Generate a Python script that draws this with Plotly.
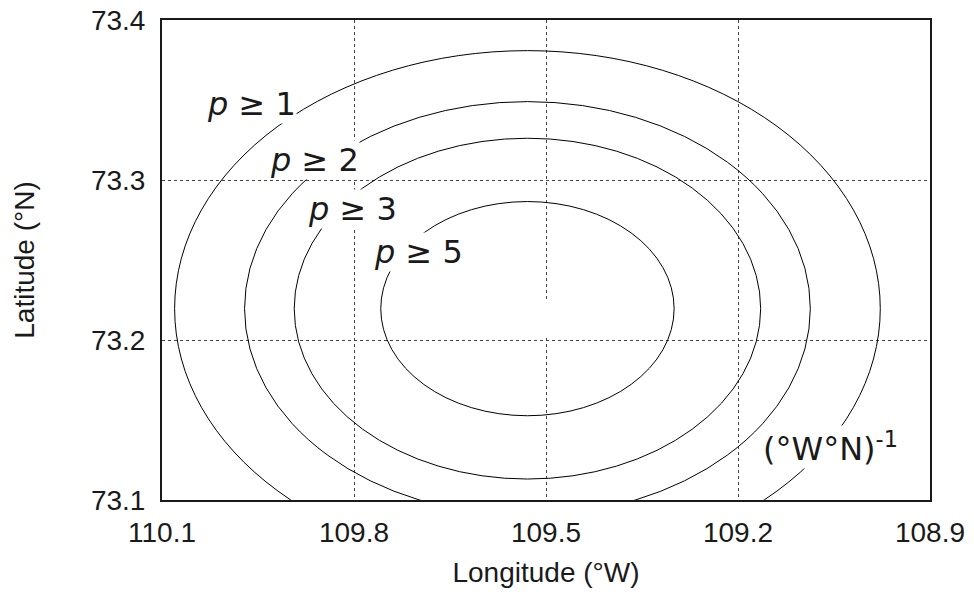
import plotly.graph_objects as go

# ---- data ----
levels = [1, 2, 3, 5]                      # contour levels p >= level
center_lon = 109.529                       # ellipse centre (°W)
center_lat = 73.2196                       # ellipse centre (°N)
semi_lon = [0.5513, 0.4420, 0.3644, 0.2292]  # half-widths in longitude
semi_lat = [0.16125, 0.1294, 0.1065, 0.06694]  # half-heights in latitude

x_ticks = [110.1, 109.8, 109.5, 109.2, 108.9]
y_ticks = [73.1, 73.2, 73.3, 73.4]
x_tick_text = ["110.1", "109.8", "109.5", "109.2", "108.9"]
y_tick_text = ["73.1", "73.2", "73.3", "73.4"]

label_texts = ["<i>p</i> ≥ 1", "<i>p</i> ≥ 2", "<i>p</i> ≥ 3", "<i>p</i> ≥ 5"]
unit_text = "(°W°N)<sup>-1</sup>"

# ---- layout constants (positions / styles) ----
label_pos = [(109.9609, 73.3478), (109.8625, 73.3128), (109.8016, 73.2819), (109.70, 73.2547)]
unit_pos = (109.0555, 73.1334)

TICK_FONT = dict(family="Liberation Sans, Arial, sans-serif", size=28, color="#1a1a1a")
LABEL_FONT = dict(family="DejaVu Sans, sans-serif", size=32, color="#1a1a1a")

fig = go.Figure()
# invisible trace so the axes exist
fig.add_trace(go.Scatter(x=[center_lon], y=[center_lat], mode="markers",
                         marker=dict(opacity=0), hoverinfo="skip", showlegend=False))

shapes = []
for a, b in zip(semi_lon, semi_lat):
    shapes.append(dict(type="circle", xref="x", yref="y",
                       x0=center_lon - a, x1=center_lon + a,
                       y0=center_lat - b, y1=center_lat + b,
                       line=dict(color="black", width=1), layer="above"))
# small gap in the central vertical grid line
shapes.append(dict(type="rect", xref="x", yref="y",
                   x0=109.508, x1=109.492, y0=73.2013, y1=73.2256,
                   line=dict(width=0), fillcolor="white", layer="between"))

annotations = []
for txt, (x, y) in zip(label_texts, label_pos):
    annotations.append(dict(x=x, y=y, xref="x", yref="y", text=txt, showarrow=False,
                            font=LABEL_FONT, bgcolor="white", borderpad=0,
                            xanchor="center", yanchor="middle"))
annotations.append(dict(x=unit_pos[0], y=unit_pos[1], xref="x", yref="y", text=unit_text,
                        showarrow=False, font=LABEL_FONT, bgcolor="white", borderpad=0,
                        xanchor="center", yanchor="middle"))

axis_common = dict(showgrid=True, griddash="dot", gridcolor="#444", gridwidth=1,
                   showline=True, linecolor="#1a1a1a", linewidth=2, mirror=True,
                   zeroline=False, ticks="", tickfont=TICK_FONT, automargin=False)

fig.update_layout(
    width=974, height=592,
    margin=dict(l=162, r=44, t=20, b=92),
    paper_bgcolor="white", plot_bgcolor="white",
    shapes=shapes, annotations=annotations,
    xaxis=dict(range=[110.1, 108.9], tickmode="array", tickvals=x_ticks, ticktext=x_tick_text,
               title=dict(text="Longitude (°W)", font=TICK_FONT, standoff=16),
               ticklabelstandoff=6, **axis_common),
    yaxis=dict(range=[73.1, 73.4], tickmode="array", tickvals=y_ticks, ticktext=y_tick_text,
               title=dict(text="Latitude (°N)", font=TICK_FONT, standoff=48),
               ticklabelstandoff=9, **axis_common),
)

fig.write_html("out.html")
